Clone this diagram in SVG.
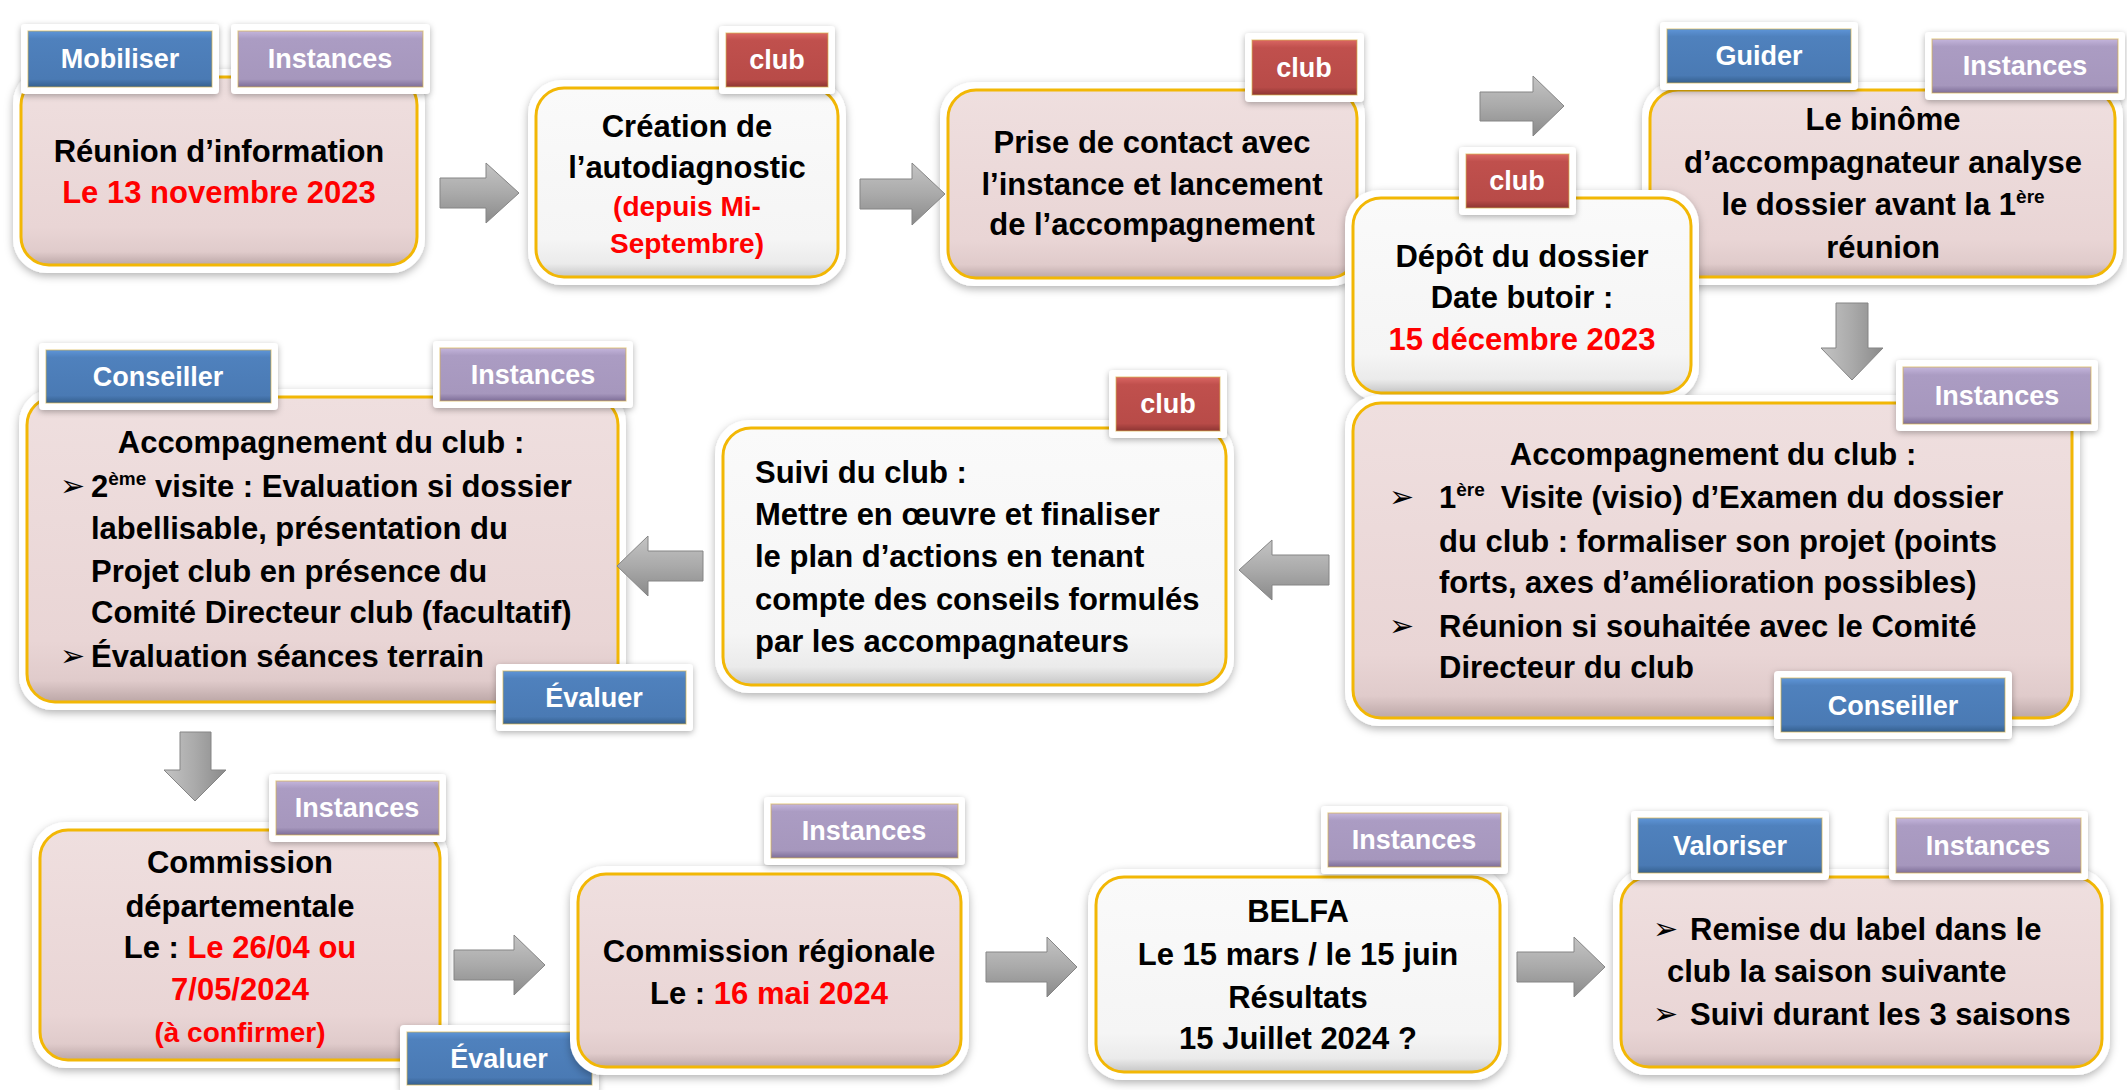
<svg xmlns="http://www.w3.org/2000/svg" width="2127" height="1090" viewBox="0 0 2127 1090">
<defs>
<filter id="sh" x="-10%" y="-10%" width="120%" height="130%"><feDropShadow dx="0" dy="3" stdDeviation="4" flood-color="#000" flood-opacity="0.3"/></filter>
<filter id="sh2" x="-15%" y="-20%" width="130%" height="150%"><feDropShadow dx="0" dy="2" stdDeviation="3" flood-color="#000" flood-opacity="0.3"/></filter>
<linearGradient id="gPink" x1="0" y1="0" x2="0" y2="1"><stop offset="0" stop-color="#EFDFDF"/><stop offset="0.8" stop-color="#E9D5D5"/><stop offset="0.93" stop-color="#E0CBCB"/><stop offset="1" stop-color="#BCA7A7"/></linearGradient>
<linearGradient id="gWhite" x1="0" y1="0" x2="0" y2="1"><stop offset="0" stop-color="#FAFAFA"/><stop offset="0.8" stop-color="#F5F5F5"/><stop offset="0.93" stop-color="#EBEBEB"/><stop offset="1" stop-color="#C6C6C6"/></linearGradient>
<linearGradient id="gBlue" x1="0" y1="0" x2="0" y2="1"><stop offset="0" stop-color="#5E95D8"/><stop offset="0.14" stop-color="#4F81BD"/><stop offset="0.86" stop-color="#4A7AB4"/><stop offset="1" stop-color="#35608F"/></linearGradient>
<linearGradient id="gPurple" x1="0" y1="0" x2="0" y2="1"><stop offset="0" stop-color="#C4B5DC"/><stop offset="0.14" stop-color="#AB9CC3"/><stop offset="0.86" stop-color="#A697BD"/><stop offset="1" stop-color="#7E6E98"/></linearGradient>
<linearGradient id="gRed" x1="0" y1="0" x2="0" y2="1"><stop offset="0" stop-color="#DA6663"/><stop offset="0.14" stop-color="#C0504D"/><stop offset="0.86" stop-color="#B84B48"/><stop offset="1" stop-color="#8E3533"/></linearGradient>
<linearGradient id="gArrH" x1="0" y1="0" x2="0" y2="1"><stop offset="0" stop-color="#C4C4C4"/><stop offset="0.5" stop-color="#AAAAAA"/><stop offset="1" stop-color="#8A8A8A"/></linearGradient>
<linearGradient id="gArrV" x1="0" y1="0" x2="1" y2="0"><stop offset="0" stop-color="#C4C4C4"/><stop offset="0.5" stop-color="#AAAAAA"/><stop offset="1" stop-color="#8A8A8A"/></linearGradient>
<style>
.halo{fill:#fff;filter:url(#sh)}
.pink{fill:url(#gPink);stroke:#F2B705;stroke-width:3}
.white{fill:url(#gWhite);stroke:#F2B705;stroke-width:3}
.tf{fill:#fff;filter:url(#sh2)}
.blue{fill:url(#gBlue);stroke:#D9B64F;stroke-opacity:.6;stroke-width:1.2}
.purple{fill:url(#gPurple);stroke:#D9B64F;stroke-opacity:.6;stroke-width:1.2}
.red{fill:url(#gRed);stroke:#D9B64F;stroke-opacity:.6;stroke-width:1.2}
.tt{font-family:"Liberation Sans",Arial,sans-serif;font-weight:bold;font-size:27px;fill:#fff;text-anchor:middle}
.t{font-family:"Liberation Sans",Arial,sans-serif;font-weight:bold;font-size:31px;fill:#000}
.c{text-anchor:middle}
.r{fill:#FF0000}
.sm{font-size:28px}
.b{font-family:"DejaVu Sans",sans-serif;font-size:30px;fill:#000}
.ah{fill:url(#gArrH);stroke:#858585;stroke-width:1}
.av{fill:url(#gArrV);stroke:#858585;stroke-width:1}
</style>
</defs>

<g id="node1">
<rect class="halo" x="13" y="69" width="412" height="204" rx="34"/>
<rect class="pink" x="21" y="77" width="396" height="188" rx="28"/>
<rect class="tf" x="21" y="24" width="198" height="70" rx="4"/>
<rect class="blue" x="28" y="31" width="184" height="56"/>
<text class="tt" x="120" y="68">Mobiliser</text>
<rect class="tf" x="231" y="24" width="199" height="70" rx="4"/>
<rect class="purple" x="238" y="31" width="185" height="56"/>
<text class="tt" x="330" y="68">Instances</text>
<text class="t c" x="219" y="162">Réunion d’information</text>
<text class="t c r" x="219" y="203">Le 13 novembre 2023</text>
</g>

<g id="node2">
<rect class="halo" x="528" y="80" width="318" height="205" rx="34"/>
<rect class="white" x="536" y="88" width="302" height="189" rx="28"/>
<rect class="tf" x="719" y="26" width="116" height="68" rx="4"/>
<rect class="red" x="726" y="33" width="102" height="54"/>
<text class="tt" x="777" y="69">club</text>
<text class="t c" x="687" y="137">Création de</text>
<text class="t c" x="687" y="178">l’autodiagnostic</text>
<text class="t c r sm" x="687" y="216">(depuis Mi-</text>
<text class="t c r sm" x="687" y="253">Septembre)</text>
</g>

<g id="node3">
<rect class="halo" x="940" y="82" width="425" height="204" rx="34"/>
<rect class="pink" x="948" y="90" width="409" height="188" rx="28"/>
<rect class="tf" x="1245" y="33" width="119" height="69" rx="4"/>
<rect class="red" x="1252" y="40" width="105" height="55"/>
<text class="tt" x="1304" y="77">club</text>
<text class="t c" x="1152" y="153">Prise de contact avec</text>
<text class="t c" x="1152" y="195">l’instance et lancement</text>
<text class="t c" x="1152" y="235">de l’accompagnement</text>
</g>

<g id="node5">
<rect class="halo" x="1642" y="82" width="481" height="203" rx="34"/>
<rect class="pink" x="1650" y="90" width="465" height="187" rx="28"/>
<rect class="tf" x="1660" y="22" width="198" height="68" rx="4"/>
<rect class="blue" x="1667" y="29" width="184" height="54"/>
<text class="tt" x="1759" y="65">Guider</text>
<rect class="tf" x="1925" y="32" width="200" height="68" rx="4"/>
<rect class="purple" x="1932" y="39" width="186" height="54"/>
<text class="tt" x="2025" y="75">Instances</text>
<text class="t c" x="1883" y="130">Le binôme</text>
<text class="t c" x="1883" y="173">d’accompagnateur analyse</text>
<text class="t c" x="1883" y="215">le dossier avant la 1<tspan font-size="19" dy="-12">ère</tspan></text>
<text class="t c" x="1883" y="258">réunion</text>
</g>

<g id="node4">
<rect class="halo" x="1345" y="190" width="354" height="211" rx="34"/>
<rect class="white" x="1353" y="198" width="338" height="195" rx="28"/>
<rect class="tf" x="1459" y="147" width="117" height="68" rx="4"/>
<rect class="red" x="1466" y="154" width="103" height="54"/>
<text class="tt" x="1517" y="190">club</text>
<text class="t c" x="1522" y="267">Dépôt du dossier</text>
<text class="t c" x="1522" y="308">Date butoir :</text>
<text class="t c r" x="1522" y="350">15 décembre 2023</text>
</g>

<g id="node6">
<rect class="halo" x="1345" y="395" width="735" height="331" rx="34"/>
<rect class="pink" x="1353" y="403" width="719" height="315" rx="28"/>
<rect class="tf" x="1896" y="360" width="202" height="71" rx="4"/>
<rect class="purple" x="1903" y="367" width="188" height="57"/>
<text class="tt" x="1997" y="405">Instances</text>
<text class="t c" x="1713" y="465">Accompagnement du club :</text>
<text class="b" x="1389" y="507">➢</text>
<text class="t" x="1439" y="508">1<tspan font-size="19" dy="-12">ère</tspan><tspan dy="12" dx="16">Visite (visio) d’Examen du dossier</tspan></text>
<text class="t" x="1439" y="552">du club : formaliser son projet (points</text>
<text class="t" x="1439" y="593">forts, axes d’amélioration possibles)</text>
<text class="b" x="1389" y="636">➢</text>
<text class="t" x="1439" y="637">Réunion si souhaitée avec le Comité</text>
<text class="t" x="1439" y="678">Directeur du club</text>
<rect class="tf" x="1774" y="671" width="238" height="68" rx="4"/>
<rect class="blue" x="1781" y="678" width="224" height="54"/>
<text class="tt" x="1893" y="715">Conseiller</text>
</g>

<g id="node7">
<rect class="halo" x="715" y="420" width="519" height="273" rx="34"/>
<rect class="white" x="723" y="428" width="503" height="257" rx="28"/>
<rect class="tf" x="1109" y="370" width="118" height="68" rx="4"/>
<rect class="red" x="1116" y="377" width="104" height="54"/>
<text class="tt" x="1168" y="413">club</text>
<text class="t" x="755" y="483">Suivi du club :</text>
<text class="t" x="755" y="525">Mettre en œuvre et finaliser</text>
<text class="t" x="755" y="567">le plan d’actions en tenant</text>
<text class="t" x="755" y="610">compte des conseils formulés</text>
<text class="t" x="755" y="652">par les accompagnateurs</text>
</g>

<g id="node8">
<rect class="halo" x="19" y="389" width="607" height="321" rx="34"/>
<rect class="pink" x="27" y="397" width="591" height="305" rx="28"/>
<rect class="tf" x="39" y="343" width="239" height="67" rx="4"/>
<rect class="blue" x="46" y="350" width="225" height="53"/>
<text class="tt" x="158" y="386">Conseiller</text>
<rect class="tf" x="433" y="341" width="200" height="67" rx="4"/>
<rect class="purple" x="440" y="348" width="186" height="53"/>
<text class="tt" x="533" y="384">Instances</text>
<text class="t c" x="321" y="453">Accompagnement du club :</text>
<text class="b" x="60" y="496">➢</text>
<text class="t" x="91" y="497">2<tspan font-size="19" dy="-12">ème</tspan><tspan dy="12"> visite : Evaluation si dossier</tspan></text>
<text class="t" x="91" y="539">labellisable, présentation du</text>
<text class="t" x="91" y="582">Projet club en présence du</text>
<text class="t" x="91" y="623">Comité Directeur club (facultatif)</text>
<text class="b" x="60" y="666">➢</text>
<text class="t" x="91" y="667">Évaluation séances terrain</text>
<rect class="tf" x="496" y="664" width="197" height="67" rx="4"/>
<rect class="blue" x="503" y="671" width="183" height="53"/>
<text class="tt" x="594" y="707">Évaluer</text>
</g>

<g id="node9">
<rect class="halo" x="32" y="822" width="416" height="246" rx="34"/>
<rect class="pink" x="40" y="830" width="400" height="230" rx="28"/>
<rect class="tf" x="269" y="774" width="177" height="68" rx="4"/>
<rect class="purple" x="276" y="781" width="163" height="54"/>
<text class="tt" x="357" y="817">Instances</text>
<text class="t c" x="240" y="873">Commission</text>
<text class="t c" x="240" y="917">départementale</text>
<text class="t c" x="240" y="958">Le : <tspan class="r">Le 26/04 ou</tspan></text>
<text class="t c r" x="240" y="1000">7/05/2024</text>
<text class="t c r sm" x="240" y="1042">(à confirmer)</text>
<rect class="tf" x="400" y="1025" width="199" height="67" rx="4"/>
<rect class="blue" x="407" y="1032" width="185" height="53"/>
<text class="tt" x="499" y="1068">Évaluer</text>
</g>

<g id="node10">
<rect class="halo" x="570" y="866" width="399" height="209" rx="34"/>
<rect class="pink" x="578" y="874" width="383" height="193" rx="28"/>
<rect class="tf" x="764" y="797" width="201" height="68" rx="4"/>
<rect class="purple" x="771" y="804" width="187" height="54"/>
<text class="tt" x="864" y="840">Instances</text>
<text class="t c" x="769" y="962">Commission régionale</text>
<text class="t c" x="769" y="1004">Le : <tspan class="r">16 mai 2024</tspan></text>
</g>

<g id="node11">
<rect class="halo" x="1088" y="869" width="420" height="211" rx="34"/>
<rect class="white" x="1096" y="877" width="404" height="195" rx="28"/>
<rect class="tf" x="1321" y="806" width="187" height="68" rx="4"/>
<rect class="purple" x="1328" y="813" width="173" height="54"/>
<text class="tt" x="1414" y="849">Instances</text>
<text class="t c" x="1298" y="922">BELFA</text>
<text class="t c" x="1298" y="965">Le 15 mars / le 15 juin</text>
<text class="t c" x="1298" y="1008">Résultats</text>
<text class="t c" x="1298" y="1049">15 Juillet 2024 ?</text>
</g>

<g id="node12">
<rect class="halo" x="1613" y="869" width="497" height="206" rx="34"/>
<rect class="pink" x="1621" y="877" width="481" height="190" rx="28"/>
<rect class="tf" x="1631" y="811" width="198" height="69" rx="4"/>
<rect class="blue" x="1638" y="818" width="184" height="55"/>
<text class="tt" x="1730" y="855">Valoriser</text>
<rect class="tf" x="1889" y="811" width="199" height="69" rx="4"/>
<rect class="purple" x="1896" y="818" width="185" height="55"/>
<text class="tt" x="1988" y="855">Instances</text>
<text class="b" x="1653" y="939">➢</text>
<text class="t" x="1690" y="940">Remise du label dans le</text>
<text class="t" x="1667" y="982">club la saison suivante</text>
<text class="b" x="1653" y="1024">➢</text>
<text class="t" x="1690" y="1025">Suivi durant les 3 saisons</text>
</g>

<g id="connectors">
<polygon class="ah" points="440,178 486,178 486,163 519,193 486,223 486,208 440,208"/>
<polygon class="ah" points="860,179 912,179 912,163 945,194 912,225 912,209 860,209"/>
<polygon class="ah" points="1480,92 1533,92 1533,76 1564,106 1533,136 1533,121 1480,121"/>
<polygon class="av" points="1836,303 1868,303 1868,348 1883,348 1852,380 1821,348 1836,348"/>
<polygon class="ah" points="1329,555 1272,555 1272,540 1239,570 1272,600 1272,585 1329,585"/>
<polygon class="ah" points="703,551 648,551 648,536 617,566 648,596 648,581 703,581"/>
<polygon class="av" points="180,732 211,732 211,770 226,770 195,801 164,770 180,770"/>
<polygon class="ah" points="454,950 514,950 514,935 545,965 514,995 514,980 454,980"/>
<polygon class="ah" points="986,952 1047,952 1047,937 1077,967 1047,997 1047,982 986,982"/>
<polygon class="ah" points="1517,952 1574,952 1574,937 1605,967 1574,997 1574,982 1517,982"/>
</g>
</svg>
